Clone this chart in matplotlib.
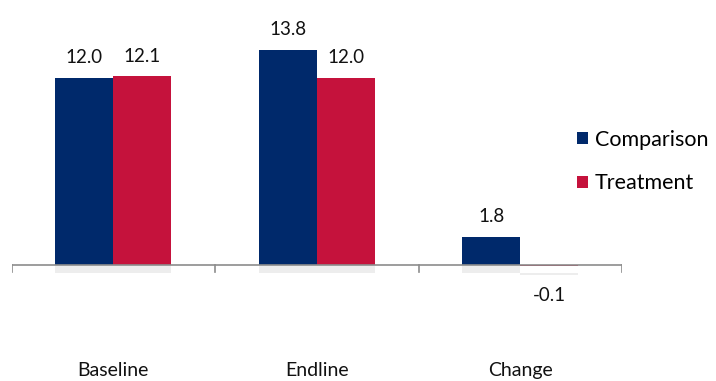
import numpy as np
import matplotlib.pyplot as plt
import matplotlib.patheffects as pe
from matplotlib.patches import Patch

plt.rcParams['font.family'] = ['Lato', 'DejaVu Sans']

categories = ["Baseline", "Endline", "Change"]
series_names = ["Comparison", "Treatment"]
comparison = [12.0, 13.8, 1.8]
treatment = [12.1, 12.0, -0.1]
colors = ["#00296B", "#C5123C"]

fig = plt.figure(figsize=(7.16, 3.81), dpi=100)
ax = fig.add_axes([11.5 / 716, 7 / 381, (622 - 11.5) / 716, 374 / 381])
ax.set_xlim(-0.5, 2.5)
ax.set_ylim(-7, 17)
ax.axis("off")

x = np.arange(len(categories))
width = 0.285
shadow = [pe.SimplePatchShadow(offset=(0, -6), shadow_rgbFace="#808080", alpha=0.14), pe.Normal()]

for i, (vals, col) in enumerate(zip([comparison, treatment], colors)):
    pos = x + (i - 0.5) * width
    bars = ax.bar(pos, vals, width, color=col, zorder=2)
    for b in bars:
        b.set_path_effects(shadow)
    for p, v in zip(pos, vals):
        if v >= 0:
            ax.text(p, v + 0.75, f"{v:.1f}", ha="center", va="bottom", fontsize=13.5, color="#111111")
        else:
            ax.text(p, v - 1.3, f"{v:.1f}", ha="center", va="top", fontsize=13.5, color="#111111")

# baseline axis with category separators
axis_col = "#8C8C8C"
ax.plot([-0.5, 2.5], [0, 0], color=axis_col, lw=1.2, zorder=3, solid_capstyle="butt")
for t in np.arange(-0.5, 2.6, 1.0):
    ax.plot([t, t], [0, -0.45], color=axis_col, lw=1.2, zorder=3)

for xi, name in zip(x, categories):
    ax.text(xi, -6.8, name, ha="center", va="center", fontsize=14, color="#111111")

handles = [Patch(facecolor=c, edgecolor="none") for c in colors]
fig.legend(handles, series_names, loc="center left", bbox_to_anchor=(577 / 716, 1 - 161.5 / 381),
           frameon=False, fontsize=15.5, handlelength=0.5, handleheight=0.5,
           handletextpad=0.33, labelspacing=1.1, borderpad=0, borderaxespad=0)

fig.savefig("out.png", dpi=100)
